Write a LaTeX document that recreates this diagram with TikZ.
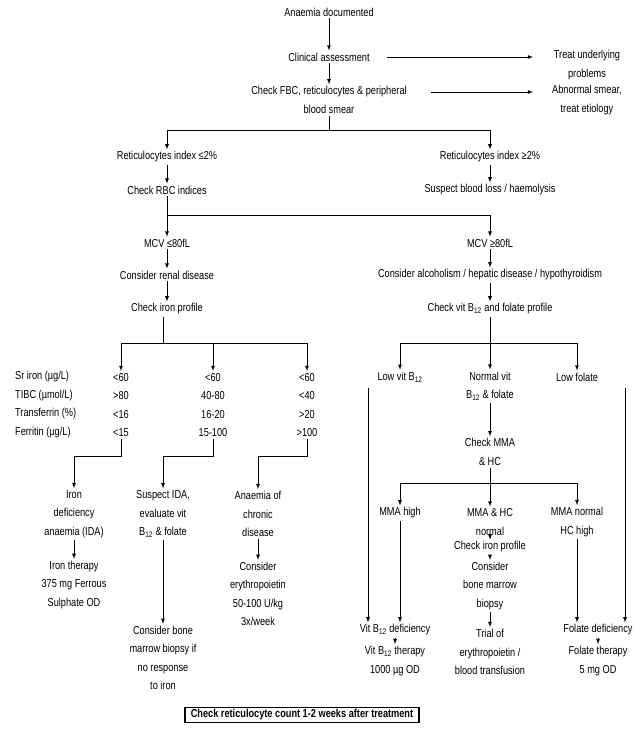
\documentclass[tikz,border=0pt]{standalone}
\usepackage{fontspec}
\setmainfont[FakeStretch=0.8]{Liberation Sans}
\usetikzlibrary{arrows}
\tikzstyle{txt} = [align=center, inner sep=2pt, font=\fontsize{11.5}{18.5}\selectfont]
\tikzstyle{lbl} = [anchor=west, inner sep=0pt, font=\fontsize{11.5}{12}\selectfont]
\tikzstyle{line} = [draw, thick, -latex]
\tikzstyle{bar} = [draw, thick]
\tikzstyle{finalbox} = [rectangle, draw, line width=1.6pt, inner xsep=6pt, inner ysep=2pt, font=\fontsize{11.5}{12}\selectfont\bfseries]

\begin{document}
\begin{tikzpicture}[x=1pt, y=-1pt]
\useasboundingbox (0,0) rectangle (643,737);

% top
\node [txt] at (329, 12) (anaemia) {Anaemia documented};
\node [txt] at (329, 57) (clinical) {Clinical assessment};
\node [txt] at (329, 100) (fbc) {Check FBC, reticulocytes \& peripheral\\blood smear};
\node [txt] at (587, 65) (treat) {Treat underlying\\problems};
\node [txt] at (587, 100) (smear) {Abnormal smear,\\treat etiology};
\coordinate (cl1) at (387, 57);
\coordinate (cl2) at (533, 57);
\coordinate (fb1) at (431, 92);
\coordinate (fb2) at (533, 92);
\path [line] (anaemia) to (clinical);
\path [line] (clinical) to (fbc);
\path [line] (cl1) to (cl2);
\path [line] (fb1) to (fb2);

% reticulocytes
\node [txt] at (167, 157) (retlow) {Reticulocytes index ≤2\%};
\node [txt] at (490, 157) (rethigh) {Reticulocytes index ≥2\%};
\node [txt] at (167, 190) (rbc) {Check RBC indices};
\node [txt] at (490, 190) (loss) {Suspect blood loss / haemolysis};
\coordinate (split1) at (329, 130);
\path [bar] (fbc.south) to (split1);
\path [line] (split1) -| (retlow.north);
\path [line] (split1) -| (rethigh.north);
\path [line] (retlow) to (rbc);
\path [line] (rethigh) to (loss);

% MCV
\node [txt] at (167, 243) (mcvlow) {MCV ≤80fL};
\node [txt] at (490, 243) (mcvhigh) {MCV ≥80fL};
\coordinate (split2) at (167, 215);
\path [line] (rbc) to (mcvlow);
\path [line] (split2) -| (mcvhigh.north);
\node [txt] at (167, 275) (renal) {Consider renal disease};
\node [txt] at (490, 275) (alcohol) {Consider alcoholism / hepatic disease / hypothyroidism};
\node [txt] at (167, 309) (iron) {Check iron profile};
\node [txt] at (490, 309) (vitb) {Check vit B\textsubscript{12} and folate profile};
\path [line] (mcvlow) to (renal);
\path [line] (renal) to (iron);
\path [line] (mcvhigh) to (alcohol);
\path [line] (alcohol) to (vitb);

% iron table
\coordinate (split3) at (163, 343);
\coordinate (barA) at (121, 343);
\coordinate (barB) at (213, 343);
\coordinate (barC) at (307, 343);
\path [bar] (iron.south -| split3) to (split3);
\path [bar] (barA) to (barC);
\node [lbl] at (15, 377) (sr) {Sr iron (µg/L)};
\node [lbl] at (15, 396) (tibc) {TIBC (µmol/L)};
\node [lbl] at (15, 414) (tf) {Transferrin (\%)};
\node [lbl] at (15, 433) (ferr) {Ferritin (µg/L)};
\node [txt] at (121, 405) (colA) {<60\\>80\\<16\\<15};
\node [txt] at (213, 405) (colB) {<60\\40-80\\16-20\\15-100};
\node [txt] at (307, 405) (colC) {<60\\<40\\>20\\>100};
\path [line] (barA) to (colA.north);
\path [line] (barB) to (colB.north);
\path [line] (barC) to (colC.north);

\node [txt] at (74, 514) (ida) {Iron\\deficiency\\anaemia (IDA)};
\node [txt] at (163, 514) (susida) {Suspect IDA,\\evaluate vit\\B\textsubscript{12} \& folate};
\node [txt] at (258, 514) (chronic) {Anaemia of\\chronic\\disease};
\coordinate (elA) at (74, 456);
\coordinate (elB) at (163, 456);
\coordinate (elC) at (258, 456);
\path [line] (colA.south) |- (elA) to (ida.north);
\path [line] (colB.south) |- (elB) to (susida.north);
\path [line] (colC.south) |- (elC) to (chronic.north);

\node [txt] at (74, 585) (irontx) {Iron therapy\\375 mg Ferrous\\Sulphate OD};
\node [txt] at (163, 658) (biopsyL) {Consider bone\\marrow biopsy if\\no response\\to iron};
\node [txt] at (258, 594) (epo) {Consider\\erythropoietin\\50-100 U/kg\\3x/week};
\path [line] (ida) to (irontx);
\path [line] (susida) to (biopsyL);
\path [line] (chronic) to (chronic |- epo.north);

% B12 / folate branch
\coordinate (split4) at (490, 343);
\path [bar] (vitb) to (split4);
\node [txt] at (400, 377) (lowb) {Low vit B\textsubscript{12}};
\node [txt] at (490, 386) (normb) {Normal vit\\B\textsubscript{12} \& folate};
\node [txt] at (577, 377) (lowf) {Low folate};
\path [line] (split4) -| (lowb.north);
\path [line] (split4) to (normb.north);
\path [line] (split4) -| (lowf.north);

\node [txt] at (490, 452) (mma) {Check MMA\\\& HC};
\path [line] (normb) to (mma);
\coordinate (split5) at (490, 483);
\path [bar] (mma) to (split5);
\node [txt] at (400, 513) (mmahigh) {MMA high};
\node [txt] at (490, 522) (mmanorm) {MMA \& HC\\normal};
\node [txt] at (577, 522) (hchigh) {MMA normal\\HC high};
\path [line] (split5) -| (mmahigh.north);
\path [line] (split5) to (mmanorm.north);
\path [line] (split5) -| (hchigh.north);

\node [txt] at (490, 547) (iron2) {Check iron profile};
\node [txt] at (490, 586) (biopsyR) {Consider\\bone marrow\\biopsy};
\node [txt] at (490, 652) (trial) {Trial of\\erythropoietin /\\blood transfusion};
\path [line] (mmanorm) to (iron2);
\path [line] (iron2) to (biopsyR);
\path [line] (biopsyR) to (trial);

\node [txt] at (395, 630) (b12def) {Vit B\textsubscript{12} deficiency};
\node [txt] at (598, 630) (foldef) {Folate deficiency};
\node [txt] at (395, 661) (b12tx) {Vit B\textsubscript{12} therapy\\1000 µg OD};
\node [txt] at (598, 661) (foltx) {Folate therapy\\5 mg OD};
\coordinate (lbx) at (368, 388);
\coordinate (lfx) at (625, 388);
\path [line] (lbx) to (lbx |- b12def.north);
\path [line] (mmahigh.south) to (mmahigh.south |- b12def.north);
\path [line] (lfx) to (lfx |- foldef.north);
\path [line] (hchigh.south) to (hchigh.south |- foldef.north);
\path [line] (b12def) to (b12tx);
\path [line] (foldef) to (foltx);

% follow-up
\node [finalbox] at (302, 715) (followup) {Check reticulocyte count 1-2 weeks after treatment};

\end{tikzpicture}
\end{document}
